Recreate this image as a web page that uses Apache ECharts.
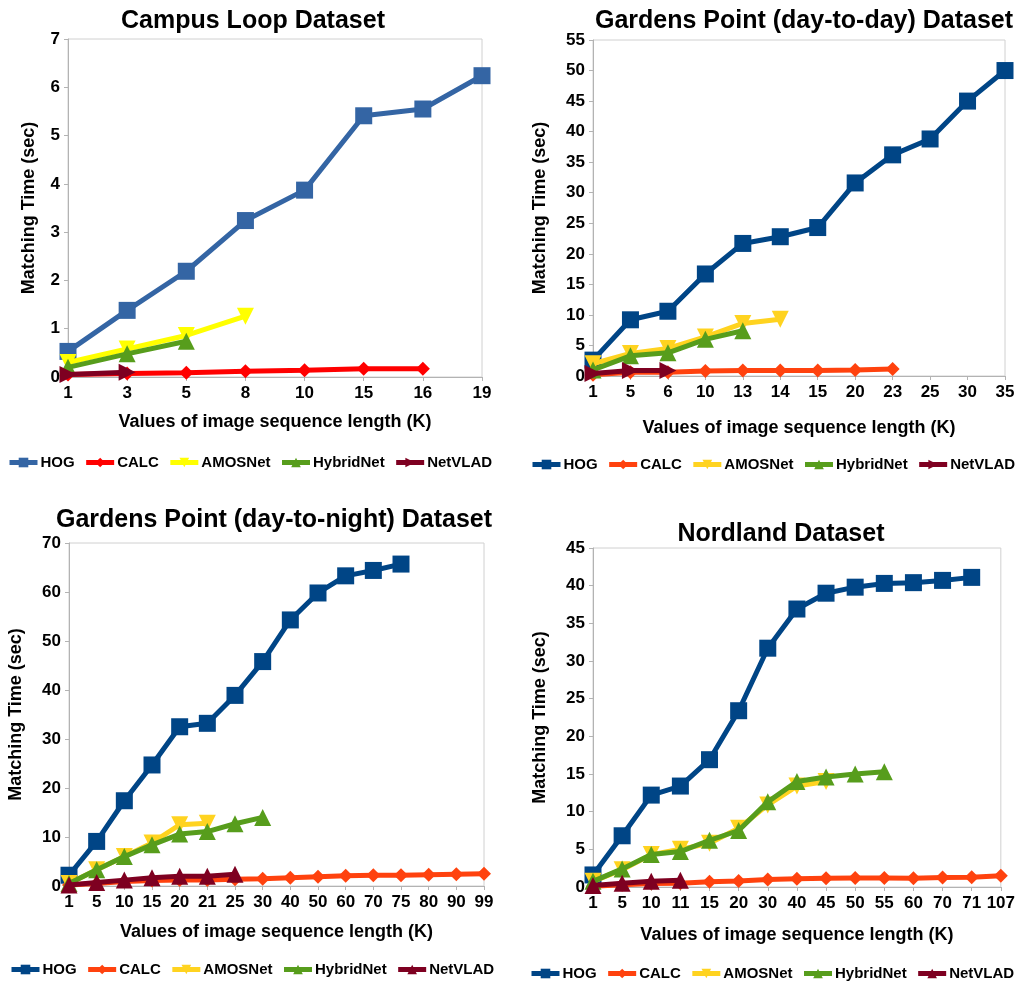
<!DOCTYPE html>
<html>
<head>
<meta charset="utf-8">
<script src="https://cdn.jsdelivr.net/npm/echarts@6/dist/echarts.min.js"></script>
<style>
html, body { margin: 0; padding: 0; background: #fff; }
#main { width: 1018px; height: 983px; }
</style>
</head>
<body>
<div id="main"></div>
<script>
/* Campus Loop */
var campusK = ['1', '3', '5', '8', '10', '15', '16', '19'];
var campusHOG = [0.53, 1.38, 2.19, 3.24, 3.87, 5.41, 5.55, 6.24];
var campusCALC = [0.05, 0.07, 0.09, 0.12, 0.14, 0.17, 0.17];
var campusAMOS = [0.3, 0.58, 0.86, 1.26];
var campusHybrid = [0.2, 0.48, 0.74];
var campusNetVLAD = [0.05, 0.1];

/* Gardens Point day-to-day */
var gpDayK = ['1', '5', '6', '10', '13', '14', '15', '20', '23', '25', '30', '35'];
var gpDayHOG = [2.6, 9.2, 10.6, 16.7, 21.7, 22.8, 24.3, 31.6, 36.2, 38.8, 45.0, 50.0];
var gpDayCALC = [0.2, 0.6, 0.6, 0.8, 0.9, 0.9, 0.9, 1.0, 1.15];
var gpDayAMOS = [2.0, 3.7, 4.5, 6.4, 8.6, 9.3];
var gpDayHybrid = [1.0, 3.3, 3.8, 6.0, 7.4];
var gpDayNetVLAD = [0.4, 0.9, 0.9];

/* Gardens Point day-to-night */
var gpNightK = ['1', '5', '10', '15', '20', '21', '25', '30', '40', '50', '60', '70', '75', '80', '90', '99'];
var gpNightHOG = [2.2, 9.1, 17.4, 24.7, 32.5, 33.2, 38.9, 45.8, 54.3, 59.8, 63.3, 64.4, 65.7];
var gpNightCALC = [0.2, 0.5, 0.9, 1.1, 1.2, 1.2, 1.4, 1.5, 1.7, 1.9, 2.1, 2.2, 2.2, 2.3, 2.4, 2.5];
var gpNightAMOS = [0.5, 3.3, 6.0, 8.8, 12.5, 12.8];
var gpNightHybrid = [0.5, 3.3, 6.0, 8.4, 10.6, 11.1, 12.7, 14.0];
var gpNightNetVLAD = [0.2, 0.7, 1.2, 1.7, 2.0, 2.0, 2.4];

/* Nordland */
var nordK = ['1', '5', '10', '11', '15', '20', '30', '40', '45', '50', '55', '60', '70', '71', '107'];
var nordHOG = [1.6, 6.8, 12.2, 13.4, 16.9, 23.4, 31.7, 36.9, 39.0, 39.8, 40.3, 40.4, 40.7, 41.1];
var nordCALC = [0.1, 0.3, 0.45, 0.5, 0.7, 0.8, 1.0, 1.1, 1.15, 1.2, 1.2, 1.15, 1.25, 1.3, 1.5];
var nordAMOS = [0.75, 2.3, 4.3, 5.0, 5.8, 7.8, 10.9, 13.4, 14.0];
var nordHybrid = [0.75, 2.4, 4.3, 4.7, 6.2, 7.5, 11.3, 14.0, 14.6, 15.0, 15.3];
var nordNetVLAD = [0.2, 0.5, 0.75, 0.9];

var methods = ['HOG', 'CALC', 'AMOSNet', 'HybridNet', 'NetVLAD'];
var colorsCampus = ['#3465a4', '#ff0000', '#ffff00', '#579d1c', '#7e0021'];
var colorsOther = ['#004586', '#ff420e', '#ffd320', '#579d1c', '#7e0021'];

var font = 'Liberation Sans';

var panels = [
	{ title: 'Campus Loop Dataset', cx: 248, ty: 4, k: campusK, max: 7, step: 1,
	  grid: { left: 68, right: 536, top: 39, bottom: 606 }, yGap: 30, xGap: 36,
	  legend: { left: 7, top: 455 }, colors: colorsCampus, netSym: 'arrow',
	  data: [campusHOG, campusCALC, campusAMOS, campusHybrid, campusNetVLAD] },
	{ title: 'Gardens Point (day-to-day) Dataset', cx: 799, ty: 4, k: gpDayK, max: 55, step: 5,
	  grid: { left: 593, right: 13, top: 40, bottom: 607 }, yGap: 44, xGap: 43,
	  legend: { left: 530, top: 457 }, colors: colorsOther, netSym: 'arrow',
	  data: [gpDayHOG, gpDayCALC, gpDayAMOS, gpDayHybrid, gpDayNetVLAD] },
	{ title: 'Gardens Point (day-to-night) Dataset', cx: 269, ty: 503, k: gpNightK, max: 70, step: 10,
	  grid: { left: 69, right: 534, top: 543, bottom: 97 }, yGap: 44, xGap: 37,
	  legend: { left: 9, top: 962 }, colors: colorsOther, netSym: 'triangle',
	  data: [gpNightHOG, gpNightCALC, gpNightAMOS, gpNightHybrid, gpNightNetVLAD] },
	{ title: 'Nordland Dataset', cx: 776, ty: 517, k: nordK, max: 45, step: 5,
	  grid: { left: 593, right: 17, top: 548, bottom: 96 }, yGap: 44, xGap: 39,
	  legend: { left: 529, top: 966 }, colors: colorsOther, netSym: 'triangle',
	  data: [nordHOG, nordCALC, nordAMOS, nordHybrid, nordNetVLAD] }
];

var titles = [], grids = [], xAxes = [], yAxes = [], legends = [], series = [];

panels.forEach(function(p, i) {
	titles.push({
		text: p.title, left: p.cx, top: p.ty, textAlign: 'center',
		textStyle: { fontFamily: font, fontSize: 25, fontWeight: 'bold', color: '#000' }
	});
	grids.push({
		left: p.grid.left, right: p.grid.right, top: p.grid.top, bottom: p.grid.bottom,
		show: true, borderColor: '#d0d0d0', borderWidth: 1, containLabel: false
	});
	xAxes.push({
		type: 'category', gridIndex: i, data: p.k, boundaryGap: false,
		name: 'Values of image sequence length (K)', nameLocation: 'middle', nameGap: p.xGap,
		nameTextStyle: { fontFamily: font, fontSize: 18, fontWeight: 'bold', color: '#000' },
		axisLine: { lineStyle: { color: '#b3b3b3' } },
		axisTick: { show: true, alignWithLabel: true, length: 4, lineStyle: { color: '#b3b3b3' } },
		axisLabel: { interval: 0, fontFamily: font, fontSize: 17, fontWeight: 'bold', color: '#000', margin: 8 },
		splitLine: { show: false }
	});
	yAxes.push({
		type: 'value', gridIndex: i, min: 0, max: p.max, interval: p.step,
		name: 'Matching Time (sec)', nameLocation: 'middle', nameGap: p.yGap,
		nameTextStyle: { fontFamily: font, fontSize: 18, fontWeight: 'bold', color: '#000' },
		axisLine: { show: true, lineStyle: { color: '#b3b3b3' } },
		axisTick: { show: true, length: 4, lineStyle: { color: '#b3b3b3' } },
		axisLabel: { fontFamily: font, fontSize: 17, fontWeight: 'bold', color: '#000', margin: 8 },
		splitLine: { show: false }
	});
	var names = [];
	methods.forEach(function(m, j) {
		var sym = 'rect', size = 17, rot = 0;
		if (j == 1) { sym = 'diamond'; size = 14; }
		if (j == 2) { sym = 'triangle'; size = 17; rot = 180; }
		if (j == 3) { sym = 'triangle'; size = 17; }
		if (j == 4) {
			sym = 'triangle'; size = 17;
			if (p.netSym == 'arrow') rot = -90;
		}
		var nm = m + '#' + i;
		names.push(nm);
		series.push({
			name: nm, type: 'line', xAxisIndex: i, yAxisIndex: i,
			data: p.data[j], symbol: sym, symbolSize: size, symbolRotate: rot,
			showAllSymbol: true, z: 2 + j,
			lineStyle: { width: 5, color: p.colors[j] },
			itemStyle: { color: p.colors[j] },
			emphasis: { disabled: true }
		});
	});
	legends.push({
		data: names, left: p.legend.left, top: p.legend.top, width: 500, padding: 0,
		itemWidth: 28, itemHeight: 12, itemGap: 9,
		lineStyle: { width: 5 },
		formatter: function(name) { return name.split('#')[0]; },
		textStyle: { fontFamily: font, fontSize: 15, fontWeight: 'bold', color: '#000', padding: [0, 0, 0, -2] }
	});
});

var chart = echarts.init(document.getElementById('main'));
chart.setOption({
	backgroundColor: '#fff',
	animation: false,
	title: titles,
	grid: grids,
	xAxis: xAxes,
	yAxis: yAxes,
	legend: legends,
	series: series
});
</script>
</body>
</html>
